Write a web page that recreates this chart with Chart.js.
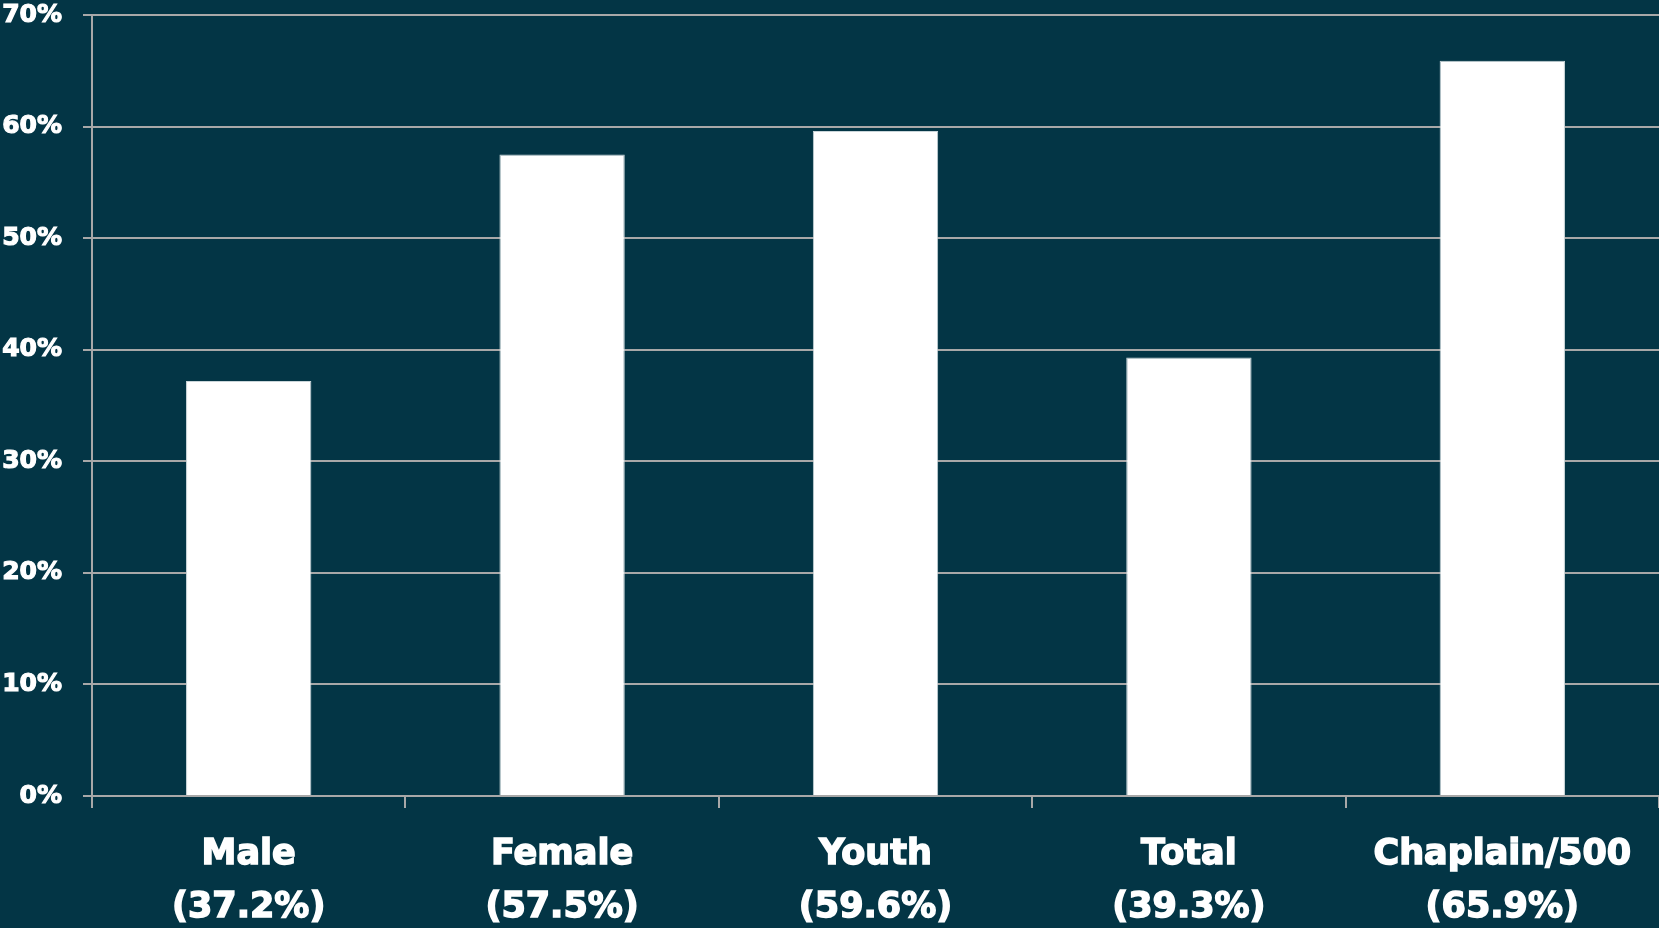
<!DOCTYPE html>
<html>
<head>
<meta charset="utf-8">
<script src="https://cdn.jsdelivr.net/npm/chart.js@4/dist/chart.umd.min.js"></script>
<style>
  html, body { margin: 0; padding: 0; background: #033545; }
  #wrap { width: 1659px; height: 928px; }
</style>
</head>
<body>
<div id="wrap"><canvas id="chart" width="1659" height="928"></canvas></div>
<script>
const categories = [
    ['Male', '(37.2%)'],
    ['Female', '(57.5%)'],
    ['Youth', '(59.6%)'],
    ['Total', '(39.3%)'],
    ['Chaplain/500', '(65.9%)']
];
const values = [37.2, 57.5, 59.6, 39.3, 65.9];
const yTicks = [0, 10, 20, 30, 40, 50, 60, 70];

const gridColor = '#a8a8a8';
const fontFamily = '"DejaVu Sans", Arial, sans-serif';

const ctx = document.getElementById('chart').getContext('2d');
new Chart(ctx, {
    type: 'bar',
    data: {
        labels: categories,
        datasets: [{
            data: values,
            backgroundColor: '#ffffff',
            borderColor: '#c9d5d9',
            borderWidth: 1,
            barPercentage: 0.4,
            categoryPercentage: 1.0
        }]
    },
    options: {
        responsive: false,
        animation: false,
        layout: { padding: { top: 0, right: 0, left: 0, bottom: 0 } },
        plugins: {
            legend: { display: false },
            tooltip: { enabled: false }
        },
        scales: {
            x: {
                afterFit: function(scale) {
                    scale.height = 132;
                },
                grid: {
                    offset: true,
                    drawOnChartArea: false,
                    drawTicks: true,
                    tickLength: 12,
                    color: gridColor,
                    lineWidth: 2
                },
                border: { color: gridColor, width: 2 },
                ticks: {
                    color: '#ffffff',
                    textStrokeColor: '#ffffff',
                    textStrokeWidth: 1.5,
                    font: { family: fontFamily, size: 35, weight: 'bold', lineHeight: 1.5 },
                    padding: 21,
                    maxRotation: 0,
                    autoSkip: false
                }
            },
            y: {
                min: 0,
                max: 70,
                afterBuildTicks: function(scale) {
                    scale.ticks = yTicks.map(function(v) { return { value: v }; });
                },
                afterFit: function(scale) {
                    scale.width = 92;
                    scale.paddingTop = 15;
                },
                grid: {
                    color: gridColor,
                    lineWidth: 2,
                    tickLength: 9
                },
                border: { color: gridColor, width: 2 },
                ticks: {
                    color: '#ffffff',
                    textStrokeColor: '#ffffff',
                    textStrokeWidth: 1.2,
                    font: { family: fontFamily, size: 25, weight: 'bold' },
                    padding: 21,
                    callback: function(value) { return value + '%'; }
                }
            }
        }
    }
});
</script>
</body>
</html>
